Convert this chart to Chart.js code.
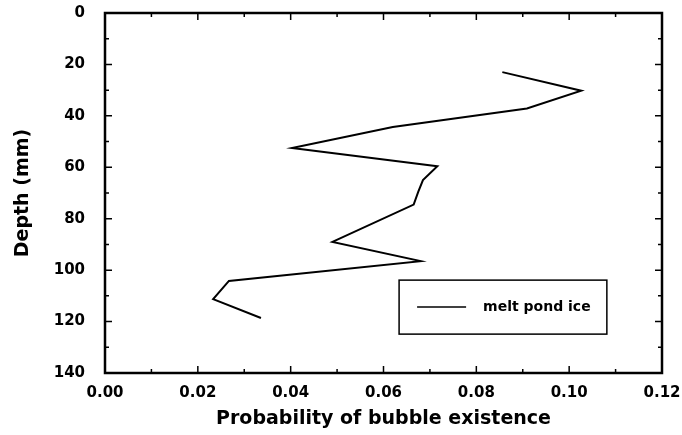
<!DOCTYPE html>
<html>
<head>
<meta charset="utf-8">
<script src="https://cdn.jsdelivr.net/npm/chart.js@4/dist/chart.umd.min.js"></script>
<style>
    html, body { margin: 0; padding: 0; background: #fff; }
    #wrap { width: 682px; height: 435px; }
</style>
</head>
<body>
<div id="wrap"><canvas id="bubble-chart" width="682" height="435"></canvas></div>
<script>
const probability = [0.0856, 0.1026, 0.0909, 0.062, 0.0403, 0.0716, 0.0685, 0.0675, 0.0665, 0.049, 0.068, 0.0267, 0.0233, 0.0336];
const depth = [23, 30.2, 37.1, 44.3, 52.5, 59.6, 65, 69.5, 74.5, 89, 96.5, 104.2, 111.3, 118.6];
const xTicks = [0, 0.02, 0.04, 0.06, 0.08, 0.10, 0.12];
const yTicks = [0, 20, 40, 60, 80, 100, 120, 140];
const seriesLabel = 'melt pond ice';

const FONT = '"DejaVu Sans", sans-serif';

// inward ticks on all four sides plus the frame
const frameTicks = {
    id: 'frameTicks',
    afterDraw(chart) {
        const ctx = chart.ctx;
        const a = chart.chartArea;
        const xs = chart.scales.x;
        const ys = chart.scales.y;
        ctx.save();
        ctx.strokeStyle = '#000';
        ctx.lineWidth = 1.5;
        ctx.beginPath();
        for (let i = 0; i < xTicks.length; i++) {
            const px = xs.getPixelForValue(xTicks[i]);
            ctx.moveTo(px, a.bottom); ctx.lineTo(px, a.bottom - 7);
            ctx.moveTo(px, a.top); ctx.lineTo(px, a.top + 7);
            if (i < xTicks.length - 1) {
                const mx = xs.getPixelForValue((xTicks[i] + xTicks[i + 1]) / 2);
                ctx.moveTo(mx, a.bottom); ctx.lineTo(mx, a.bottom - 4);
                ctx.moveTo(mx, a.top); ctx.lineTo(mx, a.top + 4);
            }
        }
        for (let i = 0; i < yTicks.length; i++) {
            const py = ys.getPixelForValue(yTicks[i]);
            ctx.moveTo(a.left, py); ctx.lineTo(a.left + 7, py);
            ctx.moveTo(a.right, py); ctx.lineTo(a.right - 7, py);
            if (i < yTicks.length - 1) {
                const my = ys.getPixelForValue((yTicks[i] + yTicks[i + 1]) / 2);
                ctx.moveTo(a.left, my); ctx.lineTo(a.left + 4, my);
                ctx.moveTo(a.right, my); ctx.lineTo(a.right - 4, my);
            }
        }
        ctx.stroke();
        ctx.lineWidth = 2.5;
        ctx.strokeRect(a.left, a.top, a.right - a.left, a.bottom - a.top);

        // legend box, lower right inside the plot
        const w = a.right - a.left, h = a.bottom - a.top;
        const bx = a.left + w * 0.528, by = a.top + h * 0.742;
        const bw = w * 0.373, bh = h * 0.15;
        ctx.lineWidth = 1.5;
        ctx.strokeRect(bx, by, bw, bh);
        const ly = by + bh / 2;
        ctx.beginPath();
        ctx.moveTo(bx + 18, ly); ctx.lineTo(bx + 67, ly);
        ctx.stroke();
        ctx.fillStyle = '#000';
        ctx.font = 'bold 14px ' + FONT;
        ctx.textBaseline = 'middle';
        ctx.fillText(seriesLabel, bx + 84, ly);
        ctx.restore();
    }
};

const ctx = document.getElementById('bubble-chart').getContext('2d');
new Chart(ctx, {
    type: 'line',
    data: {
        datasets: [{
            label: seriesLabel,
            data: probability.map((p, i) => ({ x: p, y: depth[i] })),
            borderColor: '#000',
            borderWidth: 2,
            pointRadius: 0,
            tension: 0,
            fill: false
        }]
    },
    options: {
        responsive: false,
        animation: false,
        layout: { autoPadding: false, padding: { top: 13, right: 20, left: 0, bottom: 0 } },
        plugins: {
            legend: { display: false },
            tooltip: { enabled: false }
        },
        scales: {
            x: {
                type: 'linear',
                min: 0,
                max: 0.12,
                afterBuildTicks: s => { s.ticks = xTicks.map(v => ({ value: v })); },
                afterFit: s => { s.height = 62; s.paddingLeft = 0; s.paddingRight = 0; },
                grid: { display: false },
                border: { display: false },
                ticks: {
                    color: '#000',
                    padding: 3,
                    font: { family: FONT, size: 15, weight: 'bold' },
                    callback: v => v.toFixed(2)
                },
                title: {
                    display: true,
                    text: 'Probability of bubble existence',
                    color: '#000',
                    padding: { top: 6, bottom: 5 },
                    font: { family: FONT, size: 19, weight: 'bold' }
                }
            },
            y: {
                type: 'linear',
                reverse: true,
                min: 0,
                max: 140,
                afterBuildTicks: s => { s.ticks = yTicks.map(v => ({ value: v })); },
                afterFit: s => { s.width = 105; s.paddingTop = 0; s.paddingBottom = 0; },
                grid: { display: false },
                border: { display: false },
                ticks: {
                    color: '#000',
                    padding: 12,
                    font: { family: FONT, size: 15, weight: 'bold' }
                },
                title: {
                    display: true,
                    text: 'Depth (mm)',
                    color: '#000',
                    padding: { top: 12, bottom: 0 },
                    font: { family: FONT, size: 19, weight: 'bold' }
                }
            }
        }
    },
    plugins: [frameTicks]
});
</script>
</body>
</html>
